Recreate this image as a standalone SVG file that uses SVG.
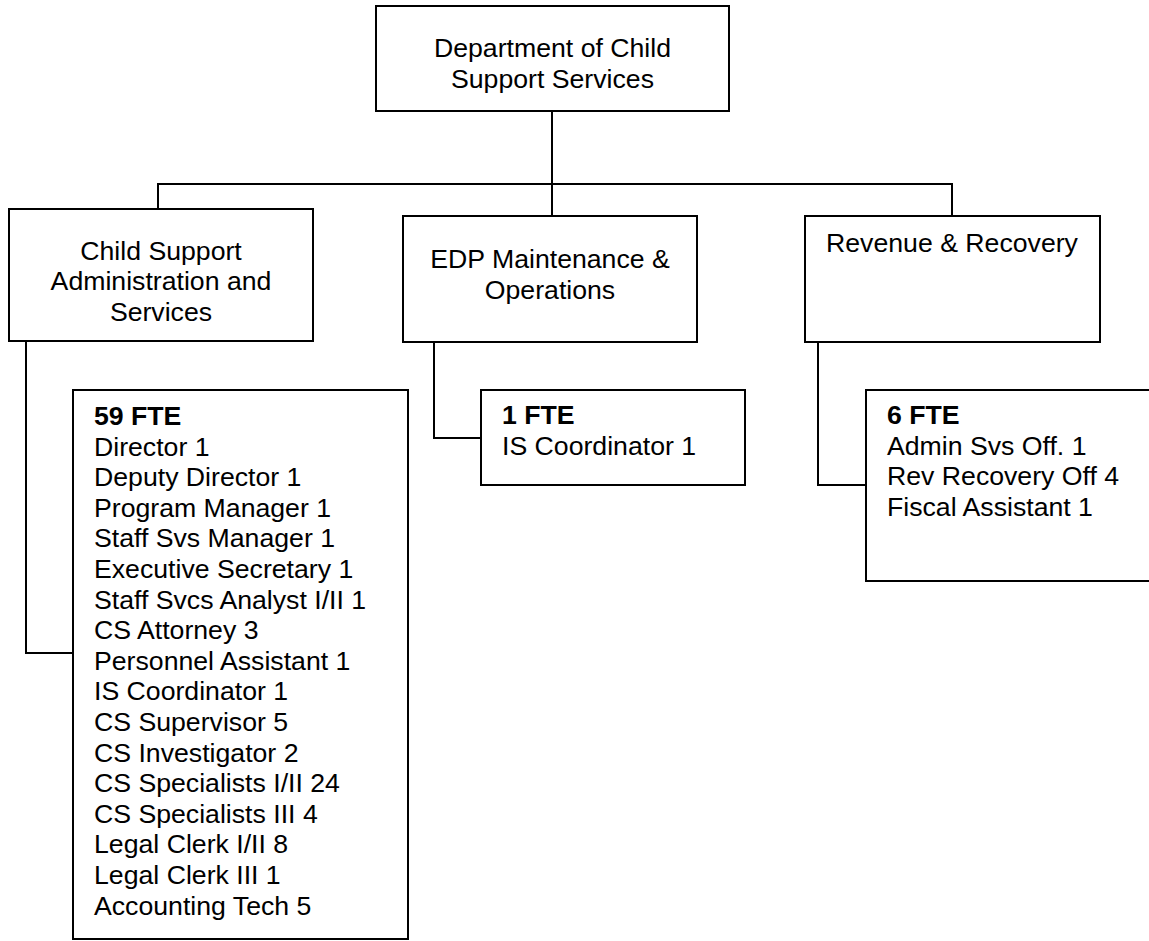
<svg xmlns="http://www.w3.org/2000/svg" width="1149" height="941" viewBox="0 0 1149 941">
<style>
.box{fill:#fff;stroke:#000;stroke-width:2}
.ln{fill:none;stroke:#000;stroke-width:2}
text{font-family:"Liberation Sans",Arial,sans-serif;font-size:26.67px;fill:#000}
.c{text-anchor:middle}
.b{font-weight:bold}
</style>
<rect width="1149" height="941" fill="#fff"/>
<g id="connectors">
<path class="ln" d="M552,111 V216"/>
<path class="ln" d="M158,209 V184 H952 V216"/>
<path class="ln" d="M26,341 V653 H73"/>
<path class="ln" d="M434,342 V438 H481"/>
<path class="ln" d="M818,342 V485 H866"/>
</g>
<g id="dept">
<rect class="box" x="376" y="6" width="353" height="105"/>
<text class="c" x="552.5" y="57">Department of Child</text>
<text class="c" x="552.5" y="87.5">Support Services</text>
</g>
<g id="admin">
<rect class="box" x="9" y="209" width="304" height="132"/>
<text class="c" x="161" y="260">Child Support</text>
<text class="c" x="161" y="290">Administration and</text>
<text class="c" x="161" y="320.5">Services</text>
</g>
<g id="edp">
<rect class="box" x="403" y="216" width="294" height="126"/>
<text class="c" x="550" y="268">EDP Maintenance &amp;</text>
<text class="c" x="550" y="298.5">Operations</text>
</g>
<g id="revenue">
<rect class="box" x="805" y="216" width="295" height="126"/>
<text class="c" x="952" y="252">Revenue &amp; Recovery</text>
</g>
<g id="fte59">
<rect class="box" x="73" y="390" width="335" height="549"/>
<text x="94" y="425"><tspan class="b">59 FTE</tspan><tspan x="94" dy="30.6">Director 1</tspan><tspan x="94" dy="30.6">Deputy Director 1</tspan><tspan x="94" dy="30.6">Program Manager 1</tspan><tspan x="94" dy="30.6">Staff Svs Manager 1</tspan><tspan x="94" dy="30.6">Executive Secretary 1</tspan><tspan x="94" dy="30.6">Staff Svcs Analyst I/II 1</tspan><tspan x="94" dy="30.6">CS Attorney 3</tspan><tspan x="94" dy="30.6">Personnel Assistant 1</tspan><tspan x="94" dy="30.6">IS Coordinator 1</tspan><tspan x="94" dy="30.6">CS Supervisor 5</tspan><tspan x="94" dy="30.6">CS Investigator 2</tspan><tspan x="94" dy="30.6">CS Specialists I/II 24</tspan><tspan x="94" dy="30.6">CS Specialists III 4</tspan><tspan x="94" dy="30.6">Legal Clerk I/II 8</tspan><tspan x="94" dy="30.6">Legal Clerk III 1</tspan><tspan x="94" dy="30.6">Accounting Tech 5</tspan></text>
</g>
<g id="fte1">
<rect class="box" x="481" y="390" width="264" height="95"/>
<text x="502" y="424"><tspan class="b">1 FTE</tspan><tspan x="502" dy="30.6">IS Coordinator 1</tspan></text>
</g>
<g id="fte6">
<rect class="box" x="866" y="390" width="300" height="191"/>
<text x="887" y="424"><tspan class="b">6 FTE</tspan><tspan x="887" dy="30.6">Admin Svs Off. 1</tspan><tspan x="887" dy="30.6">Rev Recovery Off 4</tspan><tspan x="887" dy="30.6">Fiscal Assistant 1</tspan></text>
</g>
</svg>
